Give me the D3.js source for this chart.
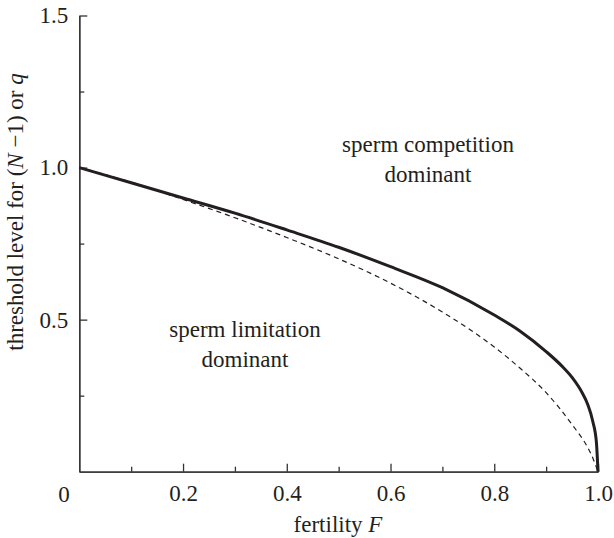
<!DOCTYPE html>
<html>
<head>
<meta charset="utf-8">
<script src="https://cdn.jsdelivr.net/npm/d3@7"></script>
<style>
  body { margin: 0; background: #fff; }
</style>
</head>
<body>
<script>
// values
const fertility_solid = [0, 0.1, 0.2, 0.3, 0.4, 0.5, 0.6, 0.7, 0.8, 0.85, 0.9, 0.93, 0.95, 0.97, 0.98, 0.99, 0.997, 1.0];
const threshold_solid = [1.0, 0.95, 0.90, 0.85, 0.795, 0.738, 0.674, 0.605, 0.515, 0.462, 0.395, 0.348, 0.31, 0.258, 0.222, 0.165, 0.095, 0];
const fertility_dashed = [0, 0.1, 0.2, 0.3, 0.4, 0.5, 0.6, 0.7, 0.8, 0.85, 0.9, 0.95, 0.98, 0.99, 1.0];
const threshold_dashed = [1.0, 0.952, 0.895, 0.835, 0.77, 0.70, 0.62, 0.525, 0.41, 0.34, 0.26, 0.155, 0.08, 0.045, 0];
const x_ticks = [0.2, 0.4, 0.6, 0.8, 1.0];
const x_minor = [0.1, 0.3, 0.5, 0.7, 0.9];
const y_ticks = [0.5, 1.0, 1.5];
const y_minor = [0.25, 0.75, 1.25];

const W = 614, H = 538;
const fs = 23;

// pick the first serif face the browser actually has
const candidates = ["Liberation Serif", "Times New Roman", "Tinos", "DejaVu Serif", "Noto Serif", "FreeSerif", "Nimbus Roman", "Times"];
const ctx = document.createElement("canvas").getContext("2d");
function widthIn(f) { ctx.font = `40px ${f}`; return ctx.measureText("sperm competition 0.2 threshold").width; }
let serif = "serif";
for (const c of candidates) {
  if (widthIn(`'${c}', monospace`) !== widthIn("monospace")) { serif = `'${c}', serif`; break; }
}

const svg = d3.select("body").append("svg")
  .attr("width", W)
  .attr("height", H)
  .style("font-family", serif);

const x = d3.scaleLinear().domain([0, 1]).range([79.3, 598]);
const y = d3.scaleLinear().domain([0, 1.5]).range([471.7, 15.5]);

// axes (ticks point inwards)
const xAxis = svg.append("g")
  .attr("transform", `translate(0,${y(0)})`)
  .call(d3.axisBottom(x).tickValues(x_ticks).tickSize(-8).tickSizeOuter(0).tickPadding(13)
    .tickFormat(d3.format(".1f")));
const xMinor = svg.append("g")
  .attr("transform", `translate(0,${y(0)})`)
  .call(d3.axisBottom(x).tickValues(x_minor).tickSize(-5).tickSizeOuter(0).tickFormat(""));

const yAxis = svg.append("g")
  .attr("transform", `translate(${x(0)},0)`)
  .call(d3.axisLeft(y).tickValues(y_ticks).tickSize(-8).tickSizeOuter(0).tickPadding(11)
    .tickFormat(d3.format(".1f")));
const yMinor = svg.append("g")
  .attr("transform", `translate(${x(0)},0)`)
  .call(d3.axisLeft(y).tickValues(y_minor).tickSize(-5).tickSizeOuter(0).tickFormat(""));

svg.selectAll("g").attr("font-family", null);
svg.selectAll(".domain, .tick line")
  .attr("stroke", "#333")
  .attr("stroke-width", 1.3);
svg.selectAll(".tick text")
  .attr("font-size", fs)
  .attr("fill", "#231f20");

// shared origin label
svg.append("text")
  .attr("x", 64)
  .attr("y", 502)
  .attr("text-anchor", "middle")
  .attr("font-size", fs)
  .attr("fill", "#231f20")
  .text("0");

// curves
const line = d3.line()
  .x(d => x(d[0]))
  .y(d => y(d[1]))
  .curve(d3.curveMonotoneX);

const dashed = svg.append("path")
  .datum(d3.zip(fertility_dashed, threshold_dashed))
  .attr("d", line)
  .attr("fill", "none")
  .attr("stroke", "#231f20")
  .attr("stroke-width", 1.2)
  .attr("stroke-dasharray", "5,4");

const solid = svg.append("path")
  .datum(d3.zip(fertility_solid, threshold_solid))
  .attr("d", line)
  .attr("fill", "none")
  .attr("stroke", "#231f20")
  .attr("stroke-width", 3);

// axis titles
const xt = svg.append("text")
  .attr("x", 338)
  .attr("y", 532)
  .attr("text-anchor", "middle")
  .attr("font-size", fs)
  .attr("fill", "#231f20");
xt.append("tspan").text("fertility ");
xt.append("tspan").attr("font-style", "italic").text("F");

const yt = svg.append("text")
  .attr("transform", "translate(23,212) rotate(-90)")
  .attr("text-anchor", "middle")
  .attr("font-size", fs)
  .attr("fill", "#231f20");
yt.append("tspan").text("threshold level for (");
yt.append("tspan").attr("font-style", "italic").text("N");
yt.append("tspan").text(" \u22121) or ");
yt.append("tspan").attr("font-style", "italic").text("q");

// region labels
const comp = svg.append("text")
  .attr("text-anchor", "middle")
  .attr("font-size", fs)
  .attr("fill", "#231f20");
comp.append("tspan").attr("x", 428).attr("y", 152).text("sperm competition");
comp.append("tspan").attr("x", 428).attr("y", 182).text("dominant");

const lim = svg.append("text")
  .attr("text-anchor", "middle")
  .attr("font-size", fs)
  .attr("fill", "#231f20");
lim.append("tspan").attr("x", 245).attr("y", 337).text("sperm limitation");
lim.append("tspan").attr("x", 245).attr("y", 367).text("dominant");
</script>
</body>
</html>
